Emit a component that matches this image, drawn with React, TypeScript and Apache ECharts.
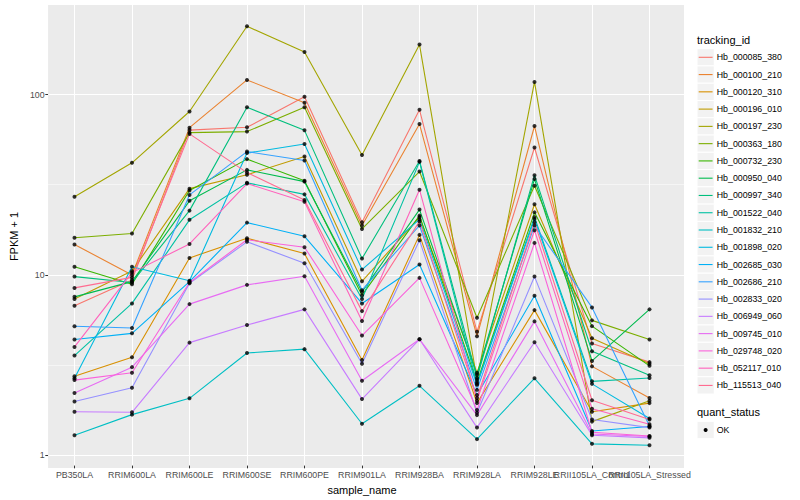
import React, { useEffect, useRef } from "react";
import * as echarts from "echarts";

const categories = [
  "PB350LA", "RRIM600LA", "RRIM600LE", "RRIM600SE", "RRIM600PE", "RRIM901LA",
  "RRIM928BA", "RRIM928LA", "RRIM928LE", "RRII105LA_Control", "RRII105LA_Stressed",
];

const trackingIds = [
  "Hb_000085_380", "Hb_000100_210", "Hb_000120_310", "Hb_000196_010", "Hb_000197_230",
  "Hb_000363_180", "Hb_000732_230", "Hb_000950_040", "Hb_000997_340", "Hb_001522_040",
  "Hb_001832_210", "Hb_001898_020", "Hb_002685_030", "Hb_002686_210", "Hb_002833_020",
  "Hb_006949_060", "Hb_009745_010", "Hb_029748_020", "Hb_052117_010", "Hb_115513_040",
];

const colors = [
  "#F8766D", "#EA8331", "#D89000", "#C09B00", "#A3A500", "#7CAE00", "#39B600", "#00BB4E",
  "#00BF7D", "#00C1A3", "#00BFC4", "#00BAE0", "#00B0F6", "#35A2FF", "#9590FF", "#C77CFF",
  "#E76BF3", "#FA62DB", "#FF62BC", "#FF6C91",
];

// FPKM + 1 per sample, in category order
const hb_000085_380 = [6.6, 9.2, 63, 65.3, 96.6, 19.3, 81.8, 4.73, 50.4, 4.06, 3.2];
const hb_000100_210 = [14.5, 9.8, 65, 120, 89.5, 18.5, 68.1, 4.46, 66.4, 3.03, 2.02];
const hb_000120_310 = [2.67, 3.41, 12.2, 15.7, 12.9, 3.29, 16.4, 1.89, 6.24, 1.69, 1.89];
const hb_000196_010 = [7.2, 10.3, 29.7, 35.5, 44.9, 9.04, 20.6, 2.79, 24.3, 4.35, 3.13];
const hb_000197_230 = [26.8, 41.4, 80, 239, 172, 45.8, 189, 2.55, 117, 1.49, 1.95];
const hb_000363_180 = [15.8, 16.7, 61, 61.8, 84.6, 17.7, 37.0, 5.66, 30.8, 5.47, 4.28];
const hb_000732_230 = [10.9, 8.7, 29.0, 43.4, 32.9, 7.56, 21.0, 2.47, 21.9, 5.08, 3.05];
const hb_000950_040 = [7.4, 9.0, 25.4, 37.8, 32.5, 7.89, 22.7, 2.72, 33.6, 3.25, 6.3];
const hb_000997_340 = [9.6, 8.9, 22.4, 84.4, 62.8, 12.1, 42.4, 2.61, 35.3, 3.68, 2.7];
const hb_001522_040 = [3.48, 6.8, 19.9, 32, 27.6, 7.2, 41.9, 2.42, 20.6, 2.5, 2.61];
const hb_001832_210 = [1.25, 1.63, 2.01, 3.6, 3.78, 1.45, 2.36, 1.19, 2.6, 1.12, 1.1];
const hb_001898_020 = [2.6, 10.9, 9.1, 46.9, 52.7, 10.5, 20.0, 2.39, 20.1, 2.42, 1.55];
const hb_002685_030 = [4.28, 4.63, 9.0, 19.2, 16.1, 6.8, 11.2, 2.1, 7.5, 1.32, 1.4];
const hb_002686_210 = [5.07, 4.96, 27.4, 47.8, 42.6, 8.06, 18.5, 2.24, 18.5, 6.46, 1.41];
const hb_002833_020 = [1.93, 2.3, 8.8, 15.0, 11.4, 3.13, 15.3, 1.67, 9.6, 1.53, 1.38];
const hb_006949_060 = [1.69, 1.68, 4.11, 5.15, 6.3, 1.99, 4.29, 1.38, 4.13, 1.25, 1.21];
const hb_009745_010 = [2.15, 3.0, 6.74, 8.63, 9.64, 2.52, 4.29, 1.62, 5.4, 1.27, 1.23];
const hb_029748_020 = [2.54, 2.79, 8.9, 15.4, 14.0, 4.5, 9.44, 1.73, 14.8, 1.3, 1.24];
const hb_052117_010 = [3.89, 10.1, 14.6, 31.7, 25.1, 5.42, 29.3, 1.95, 17.4, 1.76, 1.44];
const hb_115513_040 = [8.3, 9.5, 60, 36.5, 25.7, 6.16, 19.5, 2.02, 19.3, 1.96, 1.53];

const seriesValues = [
  hb_000085_380, hb_000100_210, hb_000120_310, hb_000196_010, hb_000197_230,
  hb_000363_180, hb_000732_230, hb_000950_040, hb_000997_340, hb_001522_040,
  hb_001832_210, hb_001898_020, hb_002685_030, hb_002686_210, hb_002833_020,
  hb_006949_060, hb_009745_010, hb_029748_020, hb_052117_010, hb_115513_040,
];

const yMajorBreaks = [1, 10, 100];
const yMinorBreaks = [3.1623, 31.623];
const quantStatus = ["OK"];

const FONT = "Liberation Sans, Arial, Helvetica, sans-serif";

export default function App() {
  const ref = useRef<HTMLDivElement>(null);

  useEffect(() => {
    document.body.style.margin = "0";
    const chart = echarts.init(ref.current!, null, { renderer: "svg" });

    const plotL = 40, plotR = 684, plotT = 5, plotB = 468;
    const unit = (plotR - plotL) / (categories.length - 1 + 1.2);
    const gridBL = plotL + 0.6 * unit;
    const gridBW = unit * (categories.length - 1);
    const yMin = 0.847;
    const yMax = 314.2;

    const lineSeries: any[] = seriesValues.map((vals, k) => ({
      type: "line",
      name: trackingIds[k],
      xAxisIndex: 1,
      yAxisIndex: 2,
      data: vals,
      symbol: "none",
      z: 3,
      lineStyle: { color: colors[k], width: 1.1 },
      silent: true,
    }));

    const points: number[][] = [];
    seriesValues.forEach((vals) => vals.forEach((v, i) => points.push([i, v])));

    const rowH = 17.27;
    const legX = 697;
    const firstRowY = 57.3;
    const legendEls: any[] = [
      {
        type: "text",
        style: { x: legX, y: 40, text: "tracking_id", fontSize: 11, fontFamily: FONT, fill: "#000", verticalAlign: "middle" },
      },
    ];
    trackingIds.forEach((id, i) => {
      const cy = firstRowY + i * rowH;
      legendEls.push({
        type: "rect",
        shape: { x: legX, y: cy - rowH / 2, width: rowH, height: rowH },
        style: { fill: "#F2F2F2", stroke: "#FFFFFF", lineWidth: 1 },
      });
      legendEls.push({
        type: "line",
        shape: { x1: legX + 1.7, y1: cy, x2: legX + rowH - 1.7, y2: cy },
        style: { stroke: colors[i], lineWidth: 1.1 },
      });
      legendEls.push({
        type: "text",
        style: { x: legX + rowH + 2.5, y: cy, text: id, fontSize: 8.8, fontFamily: FONT, fill: "#000", verticalAlign: "middle" },
      });
    });
    legendEls.push({
      type: "text",
      style: { x: legX, y: 412, text: "quant_status", fontSize: 11, fontFamily: FONT, fill: "#000", verticalAlign: "middle" },
    });
    quantStatus.forEach((q, i) => {
      const cy = 430 + i * rowH;
      legendEls.push({
        type: "rect",
        shape: { x: legX, y: cy - rowH / 2, width: rowH, height: rowH },
        style: { fill: "#F2F2F2", stroke: "#FFFFFF", lineWidth: 1 },
      });
      legendEls.push({
        type: "circle",
        shape: { cx: legX + rowH / 2, cy, r: 2 },
        style: { fill: "#000" },
      });
      legendEls.push({
        type: "text",
        style: { x: legX + rowH + 2.5, y: cy, text: q, fontSize: 8.8, fontFamily: FONT, fill: "#000", verticalAlign: "middle" },
      });
    });

    const option: any = {
      animation: false,
      textStyle: { fontFamily: FONT },
      grid: [
        {
          left: plotL, top: plotT, width: plotR - plotL, height: plotB - plotT,
          show: true, backgroundColor: "#EBEBEB", borderWidth: 0, z: -1,
        },
        {
          left: gridBL, top: plotT, width: gridBW, height: plotB - plotT,
          show: false,
        },
      ],
      xAxis: [
        { type: "value", gridIndex: 0, min: 0, max: 1, show: false },
        {
          type: "category",
          gridIndex: 1,
          data: categories,
          boundaryGap: false,
          z: 1,
          axisLine: { show: false },
          axisTick: { show: true, length: 2.75, interval: 0, lineStyle: { color: "#333333", width: 1 } },
          axisLabel: { show: true, interval: 0, fontSize: 8.8, color: "#4D4D4D", margin: 4.5, fontFamily: FONT },
          splitLine: { show: true, interval: 0, lineStyle: { color: "#FFFFFF", width: 1.07 } },
          name: "sample_name",
          nameLocation: "middle",
          nameGap: 15,
          nameTextStyle: { fontSize: 11, color: "#000", fontFamily: FONT },
        },
      ],
      yAxis: [
        {
          type: "log",
          gridIndex: 0,
          min: yMin,
          max: yMax,
          z: 1,
          axisLine: { show: false },
          axisTick: { show: true, length: 2.75, customValues: yMajorBreaks, lineStyle: { color: "#333333", width: 1 } },
          axisLabel: {
            show: true, customValues: yMajorBreaks, fontSize: 8.8, color: "#4D4D4D", margin: 3.5, fontFamily: FONT,
            formatter: (v: number) => String(Math.round(v)),
          },
          splitLine: { show: true, lineStyle: { color: "#FFFFFF", width: 1.07 } },
          name: "FPKM + 1",
          nameLocation: "middle",
          nameRotate: 90,
          nameGap: 22,
          nameTextStyle: { fontSize: 11, color: "#000", fontFamily: FONT },
        },
        {
          type: "log",
          gridIndex: 0,
          min: yMin,
          max: yMax,
          z: 1,
          axisLine: { show: false },
          axisTick: { show: false, customValues: yMinorBreaks },
          axisLabel: { show: false, customValues: yMinorBreaks },
          splitLine: { show: true, lineStyle: { color: "#FFFFFF", width: 0.53 } },
        },
        {
          type: "log",
          gridIndex: 1,
          min: yMin,
          max: yMax,
          show: false,
        },
      ],
      graphic: legendEls,
      series: [
        ...lineSeries,
        {
          type: "scatter",
          xAxisIndex: 1,
          yAxisIndex: 2,
          data: points,
          symbol: "circle",
          symbolSize: 4,
          itemStyle: { color: "#000000" },
          z: 4,
          silent: true,
        },
      ],
    };

    chart.setOption(option);
    return () => chart.dispose();
  }, []);

  return <div ref={ref} style={{ width: 800, height: 500 }} />;
}
